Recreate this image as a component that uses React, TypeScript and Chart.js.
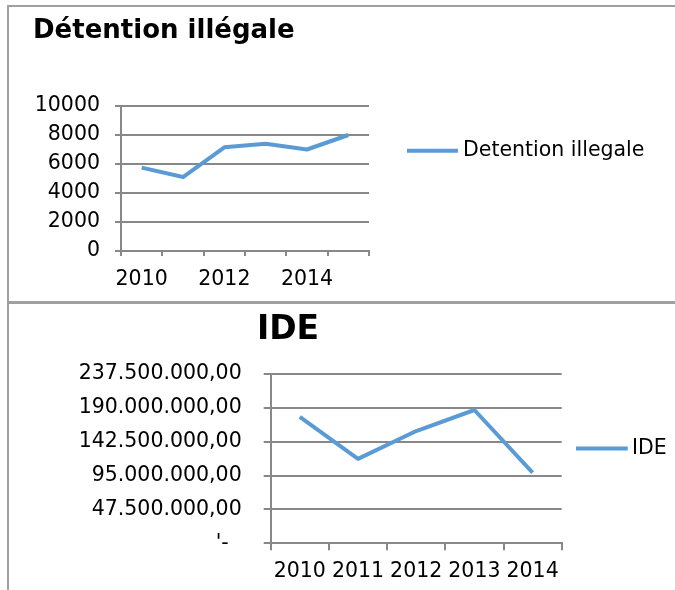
import { useEffect, useRef } from 'react';
import { Chart, registerables } from 'chart.js';

Chart.register(...registerables);

// ---- Data ----
const detentionYears = ['2010', '2011', '2012', '2013', '2014', '2015'];
const detentionValues = [5750, 5100, 7150, 7400, 7000, 8000];
const detentionTitle = 'Détention illégale';
const detentionLabel = 'Detention illegale';

const ideYears = ['2010', '2011', '2012', '2013', '2014'];
const ideValues = [177500000, 118500000, 157500000, 187000000, 99000000];
const ideTitle = 'IDE';
const ideLabel = 'IDE';

const FONT = 'DejaVu Sans';
const FS = 20.5;
const LINE_COLOR = '#5B9BD5';
const LINE_WIDTH = 4;
const GRID_COLOR = '#888888';
const FRAME_COLOR = '#a0a0a0';

function formatDE(v: number): string {
  if (v === 0) return "'-  ";
  const intPart = Math.round(v).toString().replace(/\B(?=(\d{3})+(?!\d))/g, '.');
  return intPart + ',00';
}

const lineLegend = {
  id: 'lineLegend',
  afterDraw(chart: any, _args: any, opts: any) {
    const { ctx, chartArea } = chart;
    const ds = chart.data.datasets[0];
    const x0 = chartArea.right + opts.offsetX;
    const y = opts.y;
    ctx.save();
    ctx.strokeStyle = ds.borderColor;
    ctx.lineWidth = opts.lineWidth;
    ctx.lineCap = 'butt';
    ctx.beginPath();
    ctx.moveTo(x0, y);
    ctx.lineTo(x0 + opts.length, y);
    ctx.stroke();
    ctx.font = `${opts.fontSize}px "${FONT}"`;
    ctx.fillStyle = '#000';
    ctx.textBaseline = 'middle';
    ctx.textAlign = 'left';
    ctx.fillText(ds.label, x0 + opts.length + opts.gap, y);
    ctx.restore();
  },
};

function useChart(ref: React.RefObject<HTMLCanvasElement | null>, makeConfig: () => any) {
  useEffect(() => {
    if (!ref.current) return;
    const chart = new Chart(ref.current, makeConfig());
    return () => chart.destroy();
  }, []);
}

export default function App() {
  const topRef = useRef<HTMLCanvasElement | null>(null);
  const botRef = useRef<HTMLCanvasElement | null>(null);

  useChart(topRef, () => ({
    type: 'line',
    data: {
      labels: detentionYears,
      datasets: [
        {
          label: detentionLabel,
          data: detentionValues,
          borderColor: LINE_COLOR,
          backgroundColor: LINE_COLOR,
          borderWidth: LINE_WIDTH,
          pointRadius: 0,
          tension: 0,
          borderJoinStyle: 'round',
        },
      ],
    },
    plugins: [lineLegend],
    options: {
      animation: false,
      responsive: false,
      layout: { padding: { left: 33, right: 306, top: 0, bottom: 0 } },
      plugins: {
        legend: { display: false },
        tooltip: { enabled: false },
        title: {
          display: true,
          text: detentionTitle,
          align: 'start',
          color: '#000',
          font: { family: FONT, size: 26, weight: 'bold', lineHeight: 1.2 },
          padding: { top: 15.4, bottom: 59.4 },
        },
        lineLegend: { offsetX: 38, length: 51, gap: 5, y: 150.7, lineWidth: LINE_WIDTH, fontSize: FS },
      },
      scales: {
        x: {
          type: 'category',
          offset: true,
          afterFit: (s: any) => { s.height = 51; },
          grid: { offset: true, drawOnChartArea: false, drawTicks: true, tickLength: 5, color: GRID_COLOR, lineWidth: 2 },
          border: { display: true, color: GRID_COLOR, width: 2 },
          ticks: {
            autoSkip: false,
            maxRotation: 0,
            padding: 11,
            color: '#000',
            font: { family: FONT, size: FS },
            callback: function (this: any, _v: any, i: number) {
              return i % 2 === 0 ? detentionYears[i] : '';
            },
          },
        },
        y: {
          min: 0,
          max: 10000,
          afterFit: (s: any) => { s.width = 88; },
          grid: { color: GRID_COLOR, lineWidth: 2, tickLength: 6 },
          border: { display: true, color: GRID_COLOR, width: 2 },
          ticks: {
            stepSize: 2000,
            padding: 15,
            color: '#000',
            font: { family: FONT, size: FS },
            callback: (v: any) => String(v),
          },
        },
      },
    },
  }));

  useChart(botRef, () => ({
    type: 'line',
    data: {
      labels: ideYears,
      datasets: [
        {
          label: ideLabel,
          data: ideValues,
          borderColor: LINE_COLOR,
          backgroundColor: LINE_COLOR,
          borderWidth: LINE_WIDTH,
          pointRadius: 0,
          tension: 0,
          borderJoinStyle: 'round',
        },
      ],
    },
    plugins: [lineLegend],
    options: {
      animation: false,
      responsive: false,
      layout: { padding: { left: 14.3, right: 113.3, top: 0, bottom: 0 } },
      plugins: {
        legend: { display: false },
        tooltip: { enabled: false },
        title: {
          display: true,
          text: ideTitle,
          align: 'center',
          color: '#000',
          font: { family: FONT, size: 33, weight: 'bold', lineHeight: 1.2 },
          padding: { top: 8.2, bottom: 24.2 },
        },
        lineLegend: { offsetX: 14.3, length: 51.7, gap: 4.3, y: 146.5, lineWidth: LINE_WIDTH, fontSize: FS },
      },
      scales: {
        x: {
          type: 'category',
          offset: true,
          afterFit: (s: any) => { s.height = 46.7; },
          grid: { offset: true, drawOnChartArea: false, drawTicks: true, tickLength: 7, color: GRID_COLOR, lineWidth: 2 },
          border: { display: true, color: GRID_COLOR, width: 2 },
          ticks: {
            autoSkip: false,
            maxRotation: 0,
            padding: 9,
            color: '#000',
            font: { family: FONT, size: FS },
          },
        },
        y: {
          min: 0,
          max: 237500000,
          afterFit: (s: any) => { s.width = 256.4; },
          grid: { color: GRID_COLOR, lineWidth: 2, tickLength: 7 },
          border: { display: true, color: GRID_COLOR, width: 2 },
          ticks: {
            stepSize: 47500000,
            padding: 22,
            color: '#000',
            font: { family: FONT, size: FS },
            callback: (v: any) => formatDE(Number(v)),
          },
        },
      },
    },
  }));

  return (
    <div style={{ position: 'fixed', left: 0, top: 0, width: 675, height: 590, overflow: 'hidden', background: '#fff' }}>
      <div style={{ position: 'absolute', left: 7, top: 5, width: 668, height: 2, background: FRAME_COLOR }} />
      <div style={{ position: 'absolute', left: 7, top: 5, width: 2, height: 585, background: FRAME_COLOR }} />
      <div style={{ position: 'absolute', left: 7, top: 301, width: 668, height: 3, background: FRAME_COLOR }} />
      <canvas ref={topRef} width={675} height={302} style={{ position: 'absolute', left: 0, top: 0, width: 675, height: 302 }} />
      <canvas ref={botRef} width={675} height={288} style={{ position: 'absolute', left: 0, top: 302, width: 675, height: 288 }} />
    </div>
  );
}
